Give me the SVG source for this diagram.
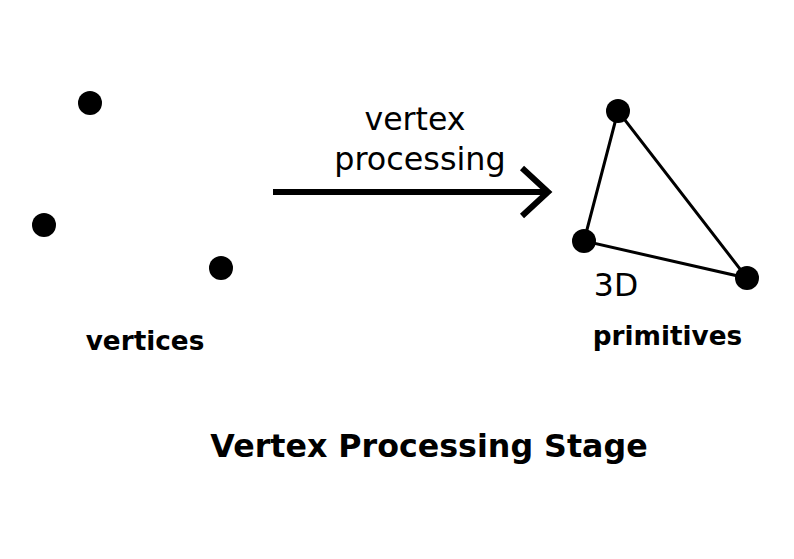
<svg xmlns="http://www.w3.org/2000/svg" width="794" height="559" viewBox="0 0 794 559">
<style>
.dot{fill:#000}
.edge{stroke:#000;stroke-width:3;fill:none}
.t{font-family:"DejaVu Sans",sans-serif;fill:#000}
.b{font-weight:bold}
</style>
<rect width="794" height="559" fill="#fff"/>
<g id="connectors">
<path class="edge" d="M618,111 L584,241 L747,278 Z"/>
<path d="M273,192 L548,192" stroke="#000" stroke-width="6" fill="none"/>
<path d="M522,168 L548,192 L522,216" stroke="#000" stroke-width="6" fill="none"/>
</g>
<g id="v1"><circle class="dot" cx="90" cy="103" r="12"/></g>
<g id="v2"><circle class="dot" cx="44" cy="225" r="12"/></g>
<g id="v3"><circle class="dot" cx="221" cy="268" r="12"/></g>
<g id="p1"><circle class="dot" cx="618" cy="111" r="12"/></g>
<g id="p2"><circle class="dot" cx="584" cy="241" r="12"/></g>
<g id="p3"><circle class="dot" cx="747" cy="278" r="12"/></g>
<g id="labels">
<text class="t" x="415" y="130" font-size="31.6" text-anchor="middle">vertex</text>
<text class="t" x="420" y="170" font-size="31.8" text-anchor="middle">processing</text>
<text class="t" x="616" y="296" font-size="31.5" text-anchor="middle">3D</text>
<text class="t b" x="667.5" y="345" font-size="26.3" text-anchor="middle">primitives</text>
<text class="t b" x="145" y="350" font-size="26.3" text-anchor="middle">vertices</text>
<text class="t b" x="429" y="457" font-size="31.7" text-anchor="middle">Vertex Processing Stage</text>
</g>
</svg>
